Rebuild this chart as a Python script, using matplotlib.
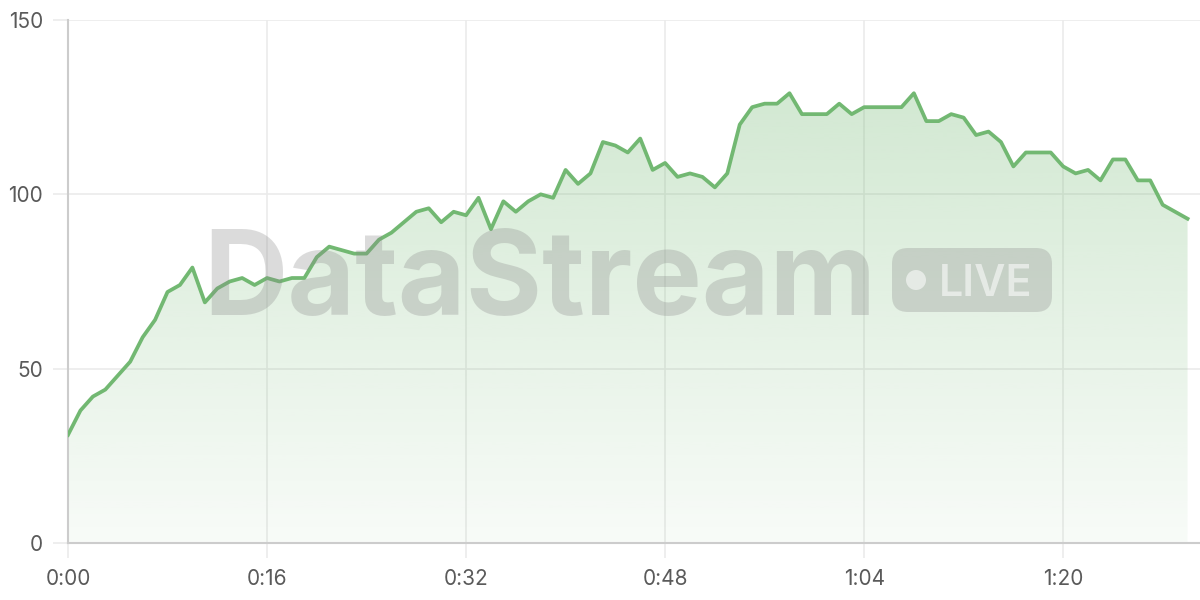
import matplotlib
matplotlib.use("Agg")
import matplotlib.pyplot as plt
import numpy as np
from matplotlib.patches import FancyBboxPatch, Circle, Polygon
from matplotlib.transforms import IdentityTransform

# valores, un punto por segundo
segundos = list(range(0, 91))
valores = [31, 38, 42, 44, 48, 52, 59, 64, 72, 74,
           79, 69, 73, 75, 76, 74, 76, 75, 76, 76,
           82, 85, 84, 83, 83, 87, 89, 92, 95, 96,
           92, 95, 94, 99, 90, 98, 95, 98, 100, 99,
           107, 103, 106, 115, 114, 112, 116, 107, 109, 105,
           106, 105, 102, 106, 120, 125, 126, 126, 129, 123,
           123, 123, 126, 123, 125, 125, 125, 125, 129, 121,
           121, 123, 122, 117, 118, 115, 108, 112, 112, 112,
           108, 106, 107, 104, 110, 110, 104, 104, 97, 95,
           93]
ticks_x = [0, 16, 32, 48, 64, 80]
ticks_y = [0, 50, 100, 150]

verde = '#72b872'
gris_texto = '#5a5a5a'
H = 600  # alto en píxeles, para colocar la marca de agua

plt.rcParams['font.family'] = ['Inter', 'DejaVu Sans']

fig = plt.figure(figsize=(12, 6), dpi=100)
ax = fig.add_axes([68 / 1200, 57 / 600, 1 - 68 / 1200, 523 / 600])

x = np.array(segundos)
y = np.array(valores)

# relleno en degradado recortado al área bajo la curva
grad = np.linspace(0, 1, 256)
rgba = np.zeros((256, 1, 4))
rgba[:, 0, :3] = matplotlib.colors.to_rgb(verde)
rgba[:, 0, 3] = 0.05 + 0.27 * grad
img = ax.imshow(rgba, extent=[0, 90, 0, 130], origin='lower', aspect='auto', zorder=1)
poly = Polygon(np.column_stack([np.r_[x, x[-1], x[0]], np.r_[y, 0, 0]]),
               closed=True, facecolor='none', edgecolor='none')
ax.add_patch(poly)
img.set_clip_path(poly)

ax.plot(x, y, color=verde, linewidth=2.7, zorder=4)

ax.set_xlim(0, 91)
ax.set_ylim(0, 150)
ax.set_xticks(ticks_x)
ax.set_xticklabels([f'{t // 60}:{t % 60:02d}' for t in ticks_x])
ax.set_yticks(ticks_y)
ax.grid(True, color='#ebebeb', linewidth=1.2, zorder=0)
ax.set_axisbelow(True)
ax.tick_params(axis='both', length=11, width=1.2, color='#ebebeb',
               labelsize=15, labelcolor=gris_texto)
ax.tick_params(axis='y', pad=7)
ax.tick_params(axis='x', pad=8)
for lado in ['top', 'right']:
    ax.spines[lado].set_visible(False)
for lado in ['left', 'bottom']:
    ax.spines[lado].set_color('#cccccc')
    ax.spines[lado].set_linewidth(1.5)

# marca de agua (coordenadas en píxeles)
fig.text(540, H - 315, 'DataStream', ha='center', va='baseline',
         fontsize=84, fontweight='bold', transform=IdentityTransform(),
         color='#8a8a8a', alpha=0.3, zorder=3)
pill = FancyBboxPatch((892, H - 312), 160, 64,
                      boxstyle='round,pad=0,rounding_size=16',
                      transform=IdentityTransform(), facecolor='#8a8a8a',
                      edgecolor='none', alpha=0.3, zorder=3)
fig.patches.append(pill)
fig.patches.append(Circle((916, H - 280), 10, transform=IdentityTransform(),
                          facecolor='white', edgecolor='none', alpha=0.55, zorder=3))
fig.text(986, H - 296, 'LIVE', ha='center', va='baseline',
         fontsize=31, fontweight='semibold', transform=IdentityTransform(),
         color='white', alpha=0.55, zorder=3)

fig.savefig('out.png', dpi=100)
